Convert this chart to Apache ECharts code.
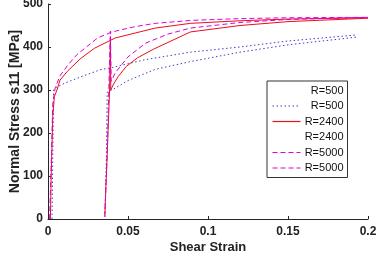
<!DOCTYPE html>
<html>
<head>
<meta charset="utf-8">
<script src="https://cdn.jsdelivr.net/npm/echarts@6/dist/echarts.min.js"></script>
<style>
  html, body { margin: 0; padding: 0; background: #fff; }
  #chart { width: 381px; height: 260px; }
</style>
</head>
<body>
<div id="chart"></div>
<script>
// legend labels, in series order
var legendNames = ['R=500', 'R=500', 'R=2400', 'R=2400', 'R=5000', 'R=5000'];

// R=500, first loading
var strainA500 = [0.0025, 0.003, 0.0035, 0.005, 0.01, 0.02, 0.0325, 0.041, 0.06, 0.089, 0.12, 0.15, 0.193];
var stressA500 = [0, 150, 300, 306, 315, 330, 347, 353, 370, 388, 400, 414, 428];
// R=500, reloading
var strainB500 = [0.0356, 0.0365, 0.037, 0.04, 0.05, 0.067, 0.089, 0.12, 0.15, 0.193];
var stressB500 = [5, 150, 295, 300, 322, 348, 366, 388, 405, 423];

// R=2400
var strainA2400 = [0.0015, 0.002, 0.003, 0.004, 0.0056, 0.0075, 0.012, 0.02, 0.029, 0.042, 0.067, 0.089, 0.12, 0.15, 0.2];
var stressA2400 = [0, 100, 240, 285, 300, 323, 343, 372, 397, 421, 444, 455, 461, 465, 468];
var strainB2400 = [0.0355, 0.037, 0.0385, 0.039, 0.0392, 0.041, 0.044, 0.049, 0.056, 0.066, 0.089, 0.12, 0.15, 0.2];
var stressB2400 = [10, 150, 300, 421, 300, 314, 332, 355, 375, 395, 435, 450, 459, 467];

// R=5000
var strainA5000 = [0.001, 0.002, 0.003, 0.0045, 0.0075, 0.012, 0.018, 0.024, 0.031, 0.04, 0.054, 0.067, 0.09, 0.12, 0.15, 0.2];
var stressA5000 = [0, 130, 270, 305, 333, 356, 382, 400, 421, 435, 447, 455, 462, 466, 468, 469];
var strainB5000 = [0.0355, 0.037, 0.038, 0.039, 0.0395, 0.042, 0.05, 0.061, 0.075, 0.089, 0.12, 0.15, 0.2];
var stressB5000 = [5, 150, 300, 437, 320, 340, 377, 409, 430, 444, 457, 464, 469];

var xTicks = [0, 0.05, 0.1, 0.15, 0.2];
var yTicks = [0, 100, 200, 300, 400, 500];

function pairs(xs, ys) {
    var out = [];
    for (var i = 0; i < xs.length; i++) {
        out.push([xs[i], ys[i]]);
    }
    return out;
}

var blue = '#3f3fc8';
var red = '#e8101a';
var magenta = '#dc00dc';
var font = 'Liberation Sans, Arial, sans-serif';

var lines = [
    { data: pairs(strainA500, stressA500), color: blue, type: [1.5, 2.5] },
    { data: pairs(strainB500, stressB500), color: blue, type: [1.5, 2.5] },
    { data: pairs(strainA2400, stressA2400), color: red, type: 'solid' },
    { data: pairs(strainB2400, stressB2400), color: red, type: 'solid' },
    { data: pairs(strainA5000, stressA5000), color: magenta, type: [5, 3] },
    { data: pairs(strainB5000, stressB5000), color: magenta, type: [5, 3] }
];

// first and fourth legend entries show no line sample
var hiddenIcon = [true, false, false, true, false, false];

var series = [];
var legendData = [];
for (var i = 0; i < lines.length; i++) {
    var id = legendNames[i] + '#' + i;
    series.push({
        name: id,
        type: 'line',
        data: lines[i].data,
        symbol: 'none',
        animation: false,
        lineStyle: { color: lines[i].color, width: 1, type: lines[i].type },
        itemStyle: { color: lines[i].color }
    });
    var item = { name: id, itemStyle: { opacity: 0 } };
    if (hiddenIcon[i]) {
        item.lineStyle = { opacity: 0 };
    } else if (lines[i].type === 'solid') {
        // solid sample drawn as a thin filled bar
        item.icon = 'path://M0,0H28V1.2H0Z';
        item.itemStyle = { color: lines[i].color, opacity: 1 };
        item.lineStyle = { opacity: 0 };
    }
    legendData.push(item);
}

var myChart = echarts.init(document.getElementById('chart'));
var option = {
    backgroundColor: '#fff',
    animation: false,
    grid: { left: 48, right: 13, top: 4, bottom: 41, containLabel: false, outerBoundsMode: 'none' },
    legend: {
        data: legendData,
        orient: 'vertical',
        left: 267,
        top: 81,
        padding: [4, 4, 4, 5],
        itemWidth: 28,
        itemHeight: 10,
        itemGap: 4.5,
        lineStyle: { width: 1 },
        borderColor: '#333',
        borderWidth: 1,
        backgroundColor: '#fff',
        borderRadius: 0,
        selectedMode: false,
        formatter: function (name) {
            return '{t|' + name.split('#')[0] + '}';
        },
        textStyle: {
            rich: {
                t: { width: 38, align: 'right', fontSize: 11, fontFamily: font, color: '#111' }
            }
        }
    },
    xAxis: {
        type: 'value',
        min: xTicks[0],
        max: xTicks[xTicks.length - 1],
        interval: 0.05,
        name: 'Shear Strain',
        nameLocation: 'middle',
        nameGap: 22,
        nameMoveOverlap: false,
        nameTextStyle: { fontSize: 13, fontWeight: 'bold', fontFamily: font, color: '#222' },
        axisLine: { lineStyle: { color: '#262626', width: 1 } },
        axisTick: { inside: true, length: 3, lineStyle: { color: '#262626' } },
        splitLine: { show: false },
        axisLabel: { fontSize: 12, fontWeight: 'bold', fontFamily: font, color: '#222', margin: 7 }
    },
    yAxis: {
        type: 'value',
        min: yTicks[0],
        max: yTicks[yTicks.length - 1],
        interval: 100,
        name: 'Normal Stress s11 [MPa]',
        nameLocation: 'middle',
        nameGap: 26,
        nameMoveOverlap: false,
        nameTextStyle: { fontSize: 14, fontWeight: 'bold', fontFamily: font, color: '#222' },
        axisLine: { show: true, lineStyle: { color: '#262626', width: 1 } },
        axisTick: { show: true, inside: true, length: 3, lineStyle: { color: '#262626' } },
        splitLine: { show: false },
        axisLabel: { fontSize: 12, fontWeight: 'bold', fontFamily: font, color: '#222', margin: 5 }
    },
    series: series
};
myChart.setOption(option);
</script>
</body>
</html>
